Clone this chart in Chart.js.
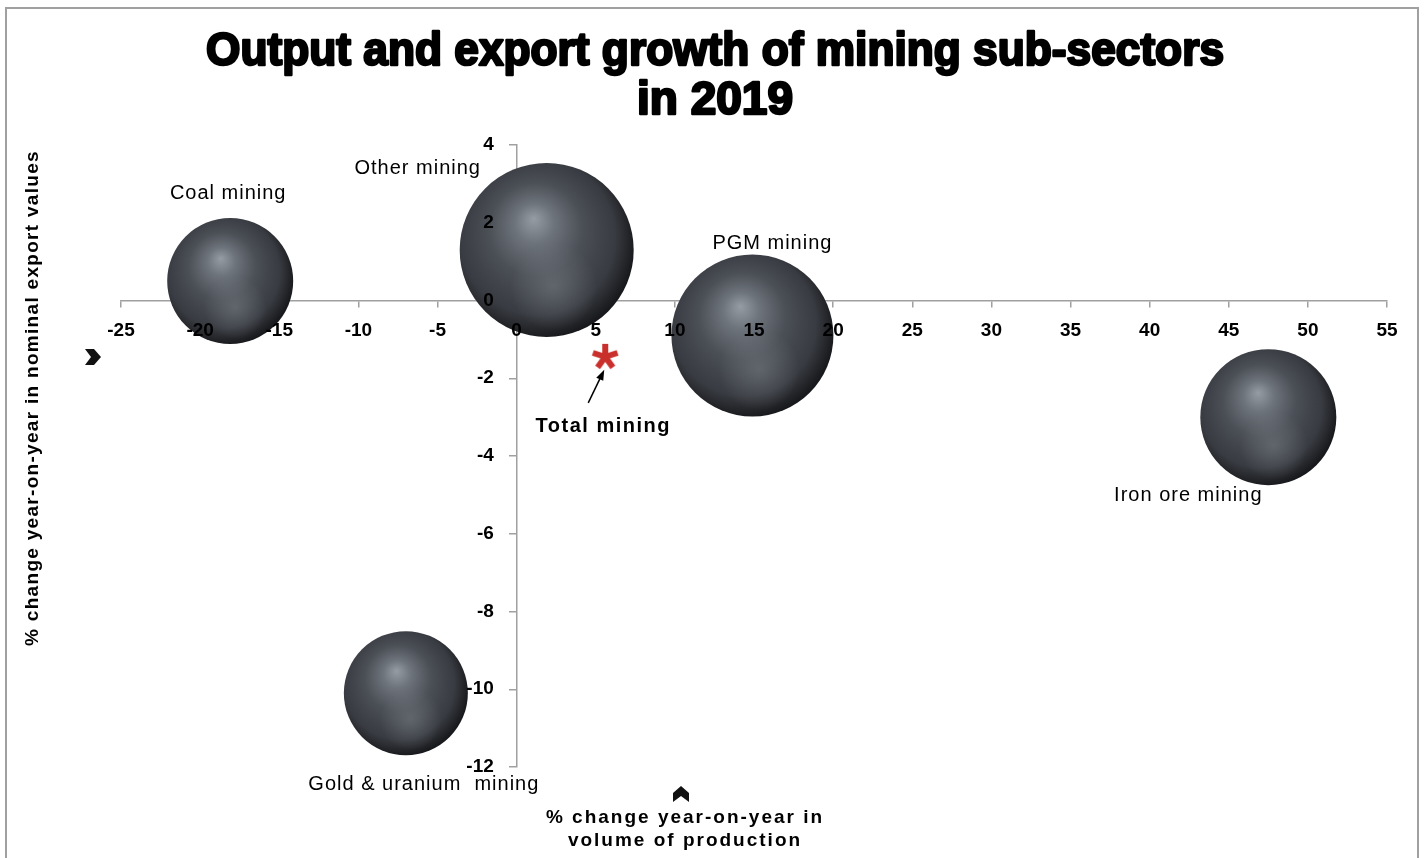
<!DOCTYPE html>
<html>
<head>
<meta charset="utf-8">
<title>Output and export growth of mining sub-sectors in 2019</title>
<script src="https://cdn.jsdelivr.net/npm/chart.js@4.4.1/dist/chart.umd.min.js"></script>
<style>
html, body { margin: 0; padding: 0; background: #fff; overflow: hidden; }
canvas { display: block; }
</style>
</head>
<body>
<canvas id="chart" width="1426" height="858"></canvas>
<script>
// values (2019)
var subSectors = ['Coal mining', 'Other mining', 'PGM mining', 'Iron ore mining', 'Gold & uranium  mining'];
var outputGrowth = [-18.1, 1.9, 14.9, 47.5, -7.0];   // % y/y volume of production
var exportGrowth = [0.5, 1.3, -0.9, -3.0, -10.1];    // % y/y nominal export values
var bubbleSize = [6.3, 8.7, 8.1, 6.8, 6.2];          // relative bubble size

var totalLabel = 'Total mining';
var totalOutput = [5.6];
var totalExport = [-1.45];

var xTicks = [-25, -20, -15, -10, -5, 0, 5, 10, 15, 20, 25, 30, 35, 40, 45, 50, 55];
var yTicks = [-12, -10, -8, -6, -4, -2, 0, 2, 4];

var radiusPerUnit = 10;
var FONT = '"Liberation Sans", Arial, sans-serif';
// label offsets from bubble centre, px
var labelOffsets = [[-2, -88], [-129, -81], [20, -92], [-80, 78], [18, 91]];

function sphereFill(ctx) {
    var chart = ctx.chart;
    if (ctx.type !== 'data' || !chart.chartArea) {
        return '#43474d';
    }
    var x = chart.scales.x.getPixelForValue(ctx.raw.x);
    var y = chart.scales.y.getPixelForValue(ctx.raw.y);
    var r = ctx.raw.r;
    var g = chart.ctx.createRadialGradient(x - r * 0.15, y - r * 0.36, 0, x - r * 0.1, y - r * 0.1, r * 1.12);
    g.addColorStop(0, '#969ca3');
    g.addColorStop(0.2, '#6e747c');
    g.addColorStop(0.48, '#4b4f56');
    g.addColorStop(0.8, '#383b41');
    g.addColorStop(1, '#18191c');
    return g;
}

function makeAsterisk() {
    var c = document.createElement('canvas');
    c.width = 30;
    c.height = 30;
    var g = c.getContext('2d');
    g.strokeStyle = '#c9302c';
    g.lineWidth = 6;
    for (var i = 0; i < 5; i++) {
        var a = (-90 + i * 72) * Math.PI / 180;
        g.beginPath();
        g.moveTo(15, 15);
        g.lineTo(15 + Math.cos(a) * 13, 15 + Math.sin(a) * 13);
        g.stroke();
    }
    return c;
}

function chevron(ctx, x, y, dir) {
    ctx.save();
    ctx.translate(x, y);
    if (dir === 'up') {
        ctx.rotate(-Math.PI / 2);
    }
    ctx.fillStyle = '#111';
    ctx.beginPath();
    ctx.moveTo(-8, -8);
    ctx.lineTo(1, -8);
    ctx.lineTo(8, 0);
    ctx.lineTo(1, 8);
    ctx.lineTo(-8, 8);
    ctx.lineTo(-2, 0);
    ctx.closePath();
    ctx.fill();
    ctx.restore();
}

var framePlugin = {
    id: 'frame',
    beforeDraw: function (chart) {
        var ctx = chart.ctx;
        ctx.save();
        ctx.fillStyle = '#fff';
        ctx.fillRect(0, 0, chart.width, chart.height);
        ctx.strokeStyle = '#a0a0a0';
        ctx.lineWidth = 2;
        ctx.strokeRect(6, 8, 1412, 870);
        ctx.restore();
    }
};

var shinePlugin = {
    id: 'shine',
    afterDatasetsDraw: function (chart) {
        var ctx = chart.ctx;
        var meta = chart.getDatasetMeta(0);
        meta.data.forEach(function (el) {
            var r = el.options.radius;
            var cx = el.x + r * 0.08;
            var cy = el.y + r * 0.42;
            ctx.save();
            ctx.beginPath();
            ctx.arc(el.x, el.y, r, 0, Math.PI * 2);
            ctx.clip();
            var g = ctx.createRadialGradient(cx, cy, 0, cx, cy, r * 0.5);
            g.addColorStop(0, 'rgba(130,136,144,0.45)');
            g.addColorStop(1, 'rgba(130,136,144,0)');
            ctx.fillStyle = g;
            ctx.fillRect(el.x - r, el.y - r, r * 2, r * 2);
            ctx.restore();
        });
    }
};

var textPlugin = {
    id: 'texts',
    afterDraw: function (chart) {
        var ctx = chart.ctx;
        ctx.save();
        ctx.fillStyle = '#000';
        ctx.strokeStyle = '#000';
        ctx.textAlign = 'center';
        ctx.textBaseline = 'middle';

        // title
        ctx.font = 'bold 46px ' + FONT;
        ctx.lineWidth = 2.5;
        ctx.lineJoin = 'round';
        ctx.fillText('Output and export growth of mining sub-sectors', 715, 52, 1018);
        ctx.strokeText('Output and export growth of mining sub-sectors', 715, 52, 1018);
        ctx.fillText('in 2019', 715, 101);
        ctx.strokeText('in 2019', 715, 101);

        // bubble labels
        ctx.font = '20px ' + FONT;
        ctx.letterSpacing = '1px';
        var meta = chart.getDatasetMeta(0);
        meta.data.forEach(function (el, i) {
            ctx.fillText(subSectors[i], el.x + labelOffsets[i][0], el.y + labelOffsets[i][1]);
        });

        // total mining label and arrow
        var star = chart.getDatasetMeta(1).data[0];
        ctx.font = 'bold 20px ' + FONT;
        ctx.letterSpacing = '1.5px';
        ctx.fillText(totalLabel, star.x - 2, star.y + 70);
        ctx.lineWidth = 1.5;
        ctx.beginPath();
        ctx.moveTo(star.x - 17, star.y + 46);
        ctx.lineTo(star.x - 3, star.y + 17);
        ctx.stroke();
        ctx.beginPath();
        ctx.moveTo(star.x - 1, star.y + 13);
        ctx.lineTo(star.x - 9, star.y + 21);
        ctx.lineTo(star.x - 2, star.y + 24);
        ctx.closePath();
        ctx.fill();

        // axis titles
        ctx.font = 'bold 19px ' + FONT;
        ctx.letterSpacing = '2px';
        ctx.fillText('% change year-on-year in', 685, 818);
        ctx.fillText('volume of production', 685, 841);
        ctx.letterSpacing = '1.3px';
        ctx.save();
        ctx.translate(33, 398);
        ctx.rotate(-Math.PI / 2);
        ctx.fillText('% change year-on-year in nominal export values', 0, 0);
        ctx.restore();
        ctx.letterSpacing = '0px';

        chevron(ctx, 93, 357, 'right');
        chevron(ctx, 681, 794, 'up');
        ctx.restore();
    }
};

var bubbles = subSectors.map(function (name, i) {
    return { x: outputGrowth[i], y: exportGrowth[i], r: bubbleSize[i] * radiusPerUnit };
});

var tickFont = { family: FONT, size: 19, weight: 'bold' };

new Chart(document.getElementById('chart'), {
    type: 'bubble',
    data: {
        datasets: [{
            label: 'Mining sub-sectors',
            data: bubbles,
            backgroundColor: sphereFill,
            borderWidth: 0
        }, {
            label: totalLabel,
            data: totalOutput.map(function (v, i) { return { x: v, y: totalExport[i], r: 13 }; }),
            pointStyle: makeAsterisk(),
            backgroundColor: '#c9302c',
            borderWidth: 0
        }]
    },
    options: {
        responsive: false,
        animation: false,
        events: [],
        layout: { autoPadding: false, padding: { left: 121, right: 39, top: 145, bottom: 91 } },
        plugins: {
            legend: { display: false },
            title: { display: false },
            tooltip: { enabled: false }
        },
        scales: {
            x: {
                type: 'linear',
                position: { y: 0 },
                min: xTicks[0],
                max: xTicks[xTicks.length - 1],
                afterBuildTicks: function (axis) {
                    axis.ticks = xTicks.map(function (v) { return { value: v }; });
                },
                afterFit: function (axis) { axis.height = 0; },
                grid: { drawOnChartArea: false, drawTicks: true, tickLength: 6, color: '#a0a0a0', lineWidth: 1.5 },
                border: { color: '#a0a0a0', width: 1.5 },
                ticks: { color: '#000', font: tickFont, padding: 13, maxRotation: 0, autoSkip: false, z: 1 }
            },
            y: {
                type: 'linear',
                position: { x: 0 },
                min: yTicks[0],
                max: yTicks[yTicks.length - 1],
                afterBuildTicks: function (axis) {
                    axis.ticks = yTicks.map(function (v) { return { value: v }; });
                },
                afterFit: function (axis) { axis.width = 0; },
                grid: { drawOnChartArea: false, drawTicks: true, tickLength: 7, color: '#a0a0a0', lineWidth: 1.5 },
                border: { color: '#a0a0a0', width: 1.5 },
                ticks: {
                    color: '#000', font: tickFont, padding: 12, autoSkip: false, z: 1,
                    // labels of an axis placed at x=0 sit flush to it, so pad with spaces
                    callback: function (v) { return v + '\u2003\u2009'; }
                }
            }
        }
    },
    plugins: [framePlugin, shinePlugin, textPlugin]
});
</script>
</body>
</html>
